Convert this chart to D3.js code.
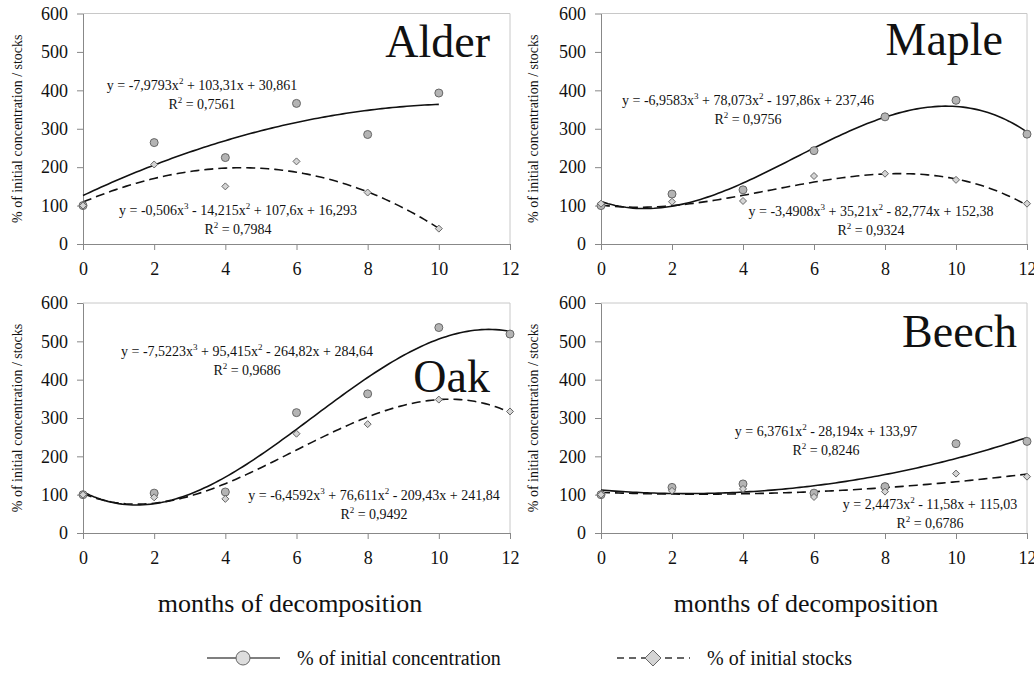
<!DOCTYPE html>
<html>
<head>
<meta charset="utf-8">
<script src="https://cdn.jsdelivr.net/npm/d3@7"></script>
<style>
  body { margin: 0; background: #fff; }
  svg text { font-family: "Liberation Serif", "DejaVu Serif", "Times New Roman", Times, serif !important; fill: #111; }
  .tick line { stroke: #888; }
  .domain { stroke: #888; }
</style>
</head>
<body>
<div id="chart"></div>
<script>
// months sampled, y ticks
const months = [0, 2, 4, 6, 8, 10, 12];
const yTicks = [0, 100, 200, 300, 400, 500, 600];
const species = ["Alder", "Maple", "Oak", "Beech"];

// % of initial concentration (circles) / % of initial stocks (diamonds)
const alderConc = [100, 264, 225, 366, 285, 393];
const alderStock = [100, 207, 150, 215, 134, 40];
const mapleConc = [100, 130, 141, 243, 331, 374, 286];
const mapleStock = [105, 110, 112, 177, 183, 167, 105];
const oakConc = [100, 104, 107, 314, 363, 536, 519];
const oakStock = [100, 93, 89, 259, 284, 348, 317];
const beechConc = [100, 119, 128, 104, 121, 233, 239];
const beechStock = [100, 110, 115, 94, 108, 155, 147];

// trendline coefficients as printed (c0 + c1*x + c2*x^2 + c3*x^3), x = point index 1..n
const alderConcFit = [30.861, 103.31, -7.9793];
const alderStockFit = [16.293, 107.6, -14.215, -0.506];
const mapleConcFit = [237.46, -197.86, 78.073, -6.9583];
const mapleStockFit = [152.38, -82.774, 35.21, -3.4908];
const oakConcFit = [284.64, -264.82, 95.415, -7.5223];
const oakStockFit = [241.84, -209.43, 76.611, -6.4592];
const beechConcFit = [133.97, -28.194, 6.3761];
const beechStockFit = [115.03, -11.58, 2.4473];

// equation labels as printed
const alderConcEq = [["y = -7,9793x", "2", " + 103,31x + 30,861"], ["R", "2", " = 0,7561"]];
const alderStockEq = [["y = -0,506x", "3", " - 14,215x", "2", " + 107,6x + 16,293"], ["R", "2", " = 0,7984"]];
const mapleConcEq = [["y = -6,9583x", "3", " + 78,073x", "2", " - 197,86x + 237,46"], ["R", "2", " = 0,9756"]];
const mapleStockEq = [["y = -3,4908x", "3", " + 35,21x", "2", " - 82,774x + 152,38"], ["R", "2", " = 0,9324"]];
const oakConcEq = [["y = -7,5223x", "3", " + 95,415x", "2", " - 264,82x + 284,64"], ["R", "2", " = 0,9686"]];
const oakStockEq = [["y = -6,4592x", "3", " + 76,611x", "2", " - 209,43x + 241,84"], ["R", "2", " = 0,9492"]];
const beechConcEq = [["y = 6,3761x", "2", " - 28,194x + 133,97"], ["R", "2", " = 0,8246"]];
const beechStockEq = [["y = 2,4473x", "2", " - 11,58x + 115,03"], ["R", "2", " = 0,6786"]];

const W = 1034, H = 675;
const svg = d3.select("#chart").append("svg").attr("width", W).attr("height", H);
svg.append("rect").attr("width", W).attr("height", H).attr("fill", "#fff");

// panel layout
const panels = [
  {name: species[0], conc: alderConc, stock: alderStock, cf: alderConcFit, sf: alderStockFit, ce: alderConcEq, se: alderStockEq,
   x0: 83, x1: 510, y0: 244, y1: 13.5, nameX: 490, nameY: 57, ceX: 202, ceY: 90, seX: 238, seY: 215, labX: 17},
  {name: species[1], conc: mapleConc, stock: mapleStock, cf: mapleConcFit, sf: mapleStockFit, ce: mapleConcEq, se: mapleStockEq,
   x0: 601, x1: 1027, y0: 244, y1: 13.5, nameX: 1003, nameY: 55, ceX: 748, ceY: 105, seX: 871, seY: 216, labX: 533},
  {name: species[2], conc: oakConc, stock: oakStock, cf: oakConcFit, sf: oakStockFit, ce: oakConcEq, se: oakStockEq,
   x0: 83, x1: 510, y0: 533, y1: 303, nameX: 490, nameY: 392, ceX: 247, ceY: 356, seX: 374, seY: 500, labX: 17},
  {name: species[3], conc: beechConc, stock: beechStock, cf: beechConcFit, sf: beechStockFit, ce: beechConcEq, se: beechStockEq,
   x0: 601, x1: 1027, y0: 533, y1: 303, nameX: 1017, nameY: 347, ceX: 826, ceY: 436, seX: 930, seY: 509, labX: 533}
];

const poly = (c, t) => c.reduce((s, k, i) => s + k * Math.pow(t, i), 0);

function diamond(g, cx, cy, r) {
  g.append("path")
    .attr("d", `M${cx},${cy - r}L${cx + r},${cy}L${cx},${cy + r}L${cx - r},${cy}Z`)
    .attr("fill", "#d4d4d4").attr("stroke", "#666").attr("stroke-width", 1);
}

function eqText(g, x, y, lines) {
  lines.forEach((parts, li) => {
    const t = g.append("text").attr("x", x).attr("y", y + li * 19)
      .attr("text-anchor", "middle").attr("font-size", 14);
    parts.forEach((p, i) => {
      const sup = i % 2 === 1;
      t.append("tspan").text(p)
        .attr("font-size", sup ? 9 : 14)
        .attr("dy", sup ? -6 : (i > 0 ? 6 : 0));
    });
  });
}

panels.forEach((p) => {
  const x = d3.scaleLinear().domain([0, 12]).range([p.x0, p.x1]);
  const y = d3.scaleLinear().domain([0, 600]).range([p.y0, p.y1]);
  const g = svg.append("g");

  // plot frame (top/right light)
  g.append("line").attr("x1", p.x0).attr("x2", p.x1).attr("y1", p.y1).attr("y2", p.y1).attr("stroke", "#c8c8c8");
  g.append("line").attr("x1", p.x1).attr("x2", p.x1).attr("y1", p.y1).attr("y2", p.y0).attr("stroke", "#c8c8c8");

  const ya = g.append("g").attr("transform", `translate(${p.x0},0)`)
    .call(d3.axisLeft(y).tickValues(yTicks).tickSize(6).tickPadding(9).tickSizeOuter(0));
  ya.selectAll("text").attr("font-size", 18);
  const xa = g.append("g").attr("transform", `translate(0,${p.y0})`)
    .call(d3.axisBottom(x).tickValues(months).tickSize(6).tickPadding(12).tickSizeOuter(0));
  xa.selectAll("text").attr("font-size", 18);

  g.append("text").attr("transform", `translate(${p.labX},${(p.y0 + p.y1) / 2}) rotate(-90)`)
    .attr("text-anchor", "middle").attr("dy", "0.35em").attr("font-size", 14)
    .text("% of initial concentration / stocks");

  g.append("text").attr("x", p.nameX).attr("y", p.nameY).attr("text-anchor", "end")
    .attr("font-size", 46).text(p.name);

  // trend curves
  const last = months[p.conc.length - 1];
  const ts = d3.range(0, last + 0.001, 0.1);
  const curve = (coef) => d3.line().x((m) => x(m)).y((m) => y(poly(coef, m / 2 + 1)))(ts);
  g.append("path").attr("d", curve(p.cf)).attr("fill", "none").attr("stroke", "#111").attr("stroke-width", 1.6);
  g.append("path").attr("d", curve(p.sf)).attr("fill", "none").attr("stroke", "#111").attr("stroke-width", 1.6)
    .attr("stroke-dasharray", "9,5");

  p.conc.forEach((v, i) => {
    g.append("circle").attr("cx", x(months[i])).attr("cy", y(v)).attr("r", 4)
      .attr("fill", "#b4b4b4").attr("stroke", "#666").attr("stroke-width", 1);
  });
  p.stock.forEach((v, i) => diamond(g, x(months[i]), y(v), 3.5));

  eqText(g, p.ceX, p.ceY, p.ce);
  eqText(g, p.seX, p.seY, p.se);
});

// x axis titles
[290, 806].forEach((cx) => {
  svg.append("text").attr("x", cx).attr("y", 612).attr("text-anchor", "middle")
    .attr("font-size", 26).text("months of decomposition");
});

// legend
const lg = svg.append("g");
lg.append("line").attr("x1", 207).attr("x2", 280).attr("y1", 658).attr("y2", 658).attr("stroke", "#555").attr("stroke-width", 1.5);
lg.append("circle").attr("cx", 243).attr("cy", 658).attr("r", 7).attr("fill", "#ddd").attr("stroke", "#666");
lg.append("text").attr("x", 297).attr("y", 665).attr("font-size", 20).text("% of initial concentration");
lg.append("line").attr("x1", 617).attr("x2", 690).attr("y1", 658).attr("y2", 658).attr("stroke", "#333").attr("stroke-width", 1.5).attr("stroke-dasharray", "7,5");
diamond(lg, 653, 658, 8);
lg.append("text").attr("x", 707).attr("y", 665).attr("font-size", 20).text("% of initial stocks");
</script>
</body>
</html>
